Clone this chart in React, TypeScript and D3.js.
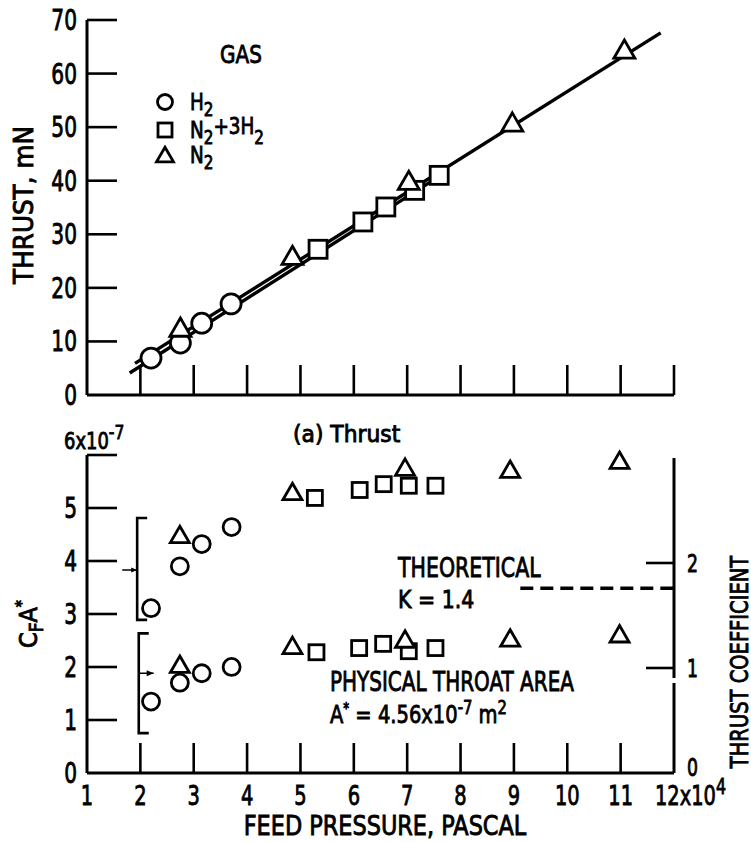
import React from 'react';
import * as d3 from 'd3';

// feed pressure, units of 10^4 Pa
const pressureTicks = [1, 2, 3, 4, 5, 6, 7, 8, 9, 10, 11];
const thrustTicks = [0, 10, 20, 30, 40, 50, 60, 70];
const cfaTicks = [0, 1, 2, 3, 4, 5];
const cfTicks = [0, 1, 2];

// (a) thrust, mN
const h2Pressure = [2.2, 2.75, 3.15, 3.7];
const h2Thrust = [6.9, 9.7, 13.4, 17.0];
const mixPressure = [5.33, 6.17, 6.6, 7.14, 7.6];
const mixThrust = [27.2, 32.3, 35.1, 38.2, 41.0];
const n2Pressure = [2.75, 4.85, 7.03, 8.97, 11.07];
const n2Thrust = [12.1, 25.5, 39.5, 50.4, 64.0];

// fitted lines (endpoints)
const fitN2Pressure = [1.9, 11.75];
const fitN2Thrust = [5.9, 67.6];
const fitH2Pressure = [1.8, 7.6];
const fitH2Thrust = [4.1, 40.8];

// C_F A*, units of 10^-7 m^2
const h2CfaPressure = [2.2, 2.74, 3.15, 3.71];
const h2Cfa = [3.11, 3.9, 4.32, 4.64];
const mixCfaPressure = [5.27, 6.11, 6.56, 7.03, 7.53];
const mixCfa = [5.19, 5.34, 5.45, 5.42, 5.42];
const n2CfaPressure = [2.74, 4.85, 6.96, 8.93, 10.98];
const n2Cfa = [4.45, 5.26, 5.72, 5.68, 5.85];

// thrust coefficient C_F
const h2CfPressure = [2.2, 2.74, 3.15, 3.71];
const h2Cf = [0.68, 0.86, 0.95, 1.01];
const mixCfPressure = [5.3, 6.1, 6.55, 7.03, 7.53];
const mixCf = [1.15, 1.19, 1.23, 1.16, 1.19];
const n2CfPressure = [2.74, 4.85, 6.96, 8.93, 10.98];
const n2Cf = [1.01, 1.19, 1.25, 1.26, 1.30];

const theoreticalCf = 1.76;
const theoreticalFrom = 9.12;

const font = "'DejaVu Sans', sans-serif";

const x = d3.scaleLinear().domain([1, 12]).range([87, 674]);
const yThrust = d3.scaleLinear().domain([0, 70]).range([395, 20]);
const yCfa = d3.scaleLinear().domain([0, 6]).range([773, 455]);
const yCf = d3.scaleLinear().domain([0, 3]).range([773, 458]);

type Shape = 'circle' | 'square' | 'triangle';

const Marker = ({ cx, cy, shape, s }: { cx: number; cy: number; shape: Shape; s: number }) => {
  const st = { fill: 'white', stroke: 'black', strokeWidth: 2.8 };
  if (shape === 'circle') return <circle cx={cx} cy={cy} r={s / 2} {...st} />;
  if (shape === 'square') return <rect x={cx - s / 2} y={cy - s / 2} width={s} height={s} {...st} />;
  const tri = d3.symbol().type(d3.symbolTriangle).size(s * s * 0.433)();
  return <path d={tri || ''} transform={`translate(${cx},${cy})`} {...st} strokeLinejoin="miter" />;
};

const Series = ({ px, py, yScale, shape, s }: { px: number[]; py: number[]; yScale: d3.ScaleLinear<number, number>; shape: Shape; s: number }) => (
  <g>
    {px.map((p, i) => (
      <Marker key={i} cx={x(p)} cy={yScale(py[i])} shape={shape} s={s} />
    ))}
  </g>
);

// narrow, slightly heavy text (the scan uses a condensed face)
const T = ({
  x: tx,
  y: ty,
  size,
  sx = 0.86,
  anchor = 'start',
  rot = 0,
  children,
}: {
  x: number;
  y: number;
  size: number;
  sx?: number;
  anchor?: string;
  rot?: number;
  children: React.ReactNode;
}) => (
  <g transform={`translate(${tx},${ty}) rotate(${rot}) scale(${sx},1)`}>
    <text fontSize={size} textAnchor={anchor} stroke="black" strokeWidth={0.9}>
      {children}
    </text>
  </g>
);

const App = () => {
  const lineN2 = d3
    .line<number>()
    .x((p) => x(p))
    .y((_, i) => yThrust(fitN2Thrust[i]))(fitN2Pressure);
  const lineH2 = d3
    .line<number>()
    .x((p) => x(p))
    .y((_, i) => yThrust(fitH2Thrust[i]))(fitH2Pressure);

  const axisW = 3;
  const tickW = 2.6;
  const tickLen = 30;

  return (
    <svg width={751} height={842} style={{ position: 'absolute', left: 0, top: 0, background: 'white' }} fontFamily={font}>
      <rect width={751} height={842} fill="white" />
      {/* ---------- top panel ---------- */}
      <line x1={x(1)} x2={x(1)} y1={yThrust(70)} y2={yThrust(0)} stroke="black" strokeWidth={axisW} />
      <line x1={x(1)} x2={x(12)} y1={yThrust(0)} y2={yThrust(0)} stroke="black" strokeWidth={axisW} />
      {thrustTicks.slice(1).map((t) => (
        <line key={t} x1={x(1)} x2={x(1) + tickLen} y1={yThrust(t)} y2={yThrust(t)} stroke="black" strokeWidth={tickW} />
      ))}
      {[...pressureTicks.slice(1), 12].map((t) => (
        <line key={t} x1={x(t)} x2={x(t)} y1={yThrust(0)} y2={yThrust(0) - tickLen} stroke="black" strokeWidth={tickW} />
      ))}
      {thrustTicks.map((t) => (
        <T key={t} x={77} y={yThrust(t) + 10} size={28} sx={0.72} anchor="end">
          {t}
        </T>
      ))}
      <T x={33} y={205} size={26} sx={0.95} rot={-90} anchor="middle">
        THRUST, mN
      </T>

      <path d={lineN2 || ''} stroke="black" strokeWidth={3.4} fill="none" />
      <path d={lineH2 || ''} stroke="black" strokeWidth={3.4} fill="none" />
      <Series px={h2Pressure} py={h2Thrust} yScale={yThrust} shape="circle" s={20} />
      <Series px={mixPressure} py={mixThrust} yScale={yThrust} shape="square" s={18} />
      <Series px={n2Pressure} py={n2Thrust} yScale={yThrust} shape="triangle" s={21} />

      {/* legend */}
      <T x={220} y={63} size={25} sx={0.8}>GAS</T>
      <Marker cx={165} cy={102} shape="circle" s={15} />
      <Marker cx={165} cy={130} shape="square" s={14} />
      <Marker cx={165} cy={157} shape="triangle" s={17} />
      <T x={190} y={110} size={23} sx={0.8}>
        H<tspan dy={6} fontSize={19}>2</tspan>
      </T>
      <T x={190} y={138} size={23} sx={0.8}>
        N<tspan dy={6} fontSize={19}>2</tspan>
        <tspan dy={-10}>+3H</tspan>
        <tspan dy={10} fontSize={19}>2</tspan>
      </T>
      <T x={190} y={163} size={23} sx={0.8}>
        N<tspan dy={6} fontSize={19}>2</tspan>
      </T>

      <T x={293} y={442} size={23} sx={0.95}>(a) Thrust</T>

      {/* ---------- bottom panel ---------- */}
      <line x1={x(1)} x2={x(1)} y1={yCfa(6)} y2={yCfa(0)} stroke="black" strokeWidth={axisW} />
      <line x1={x(1)} x2={x(12)} y1={yCfa(0)} y2={yCfa(0)} stroke="black" strokeWidth={axisW} />
      {[...cfaTicks.slice(1), 6].map((t) => (
        <line key={t} x1={x(1)} x2={x(1) + tickLen} y1={yCfa(t)} y2={yCfa(t)} stroke="black" strokeWidth={tickW} />
      ))}
      {pressureTicks.slice(1).map((t) => (
        <line key={t} x1={x(t)} x2={x(t)} y1={yCfa(0)} y2={yCfa(0) - tickLen} stroke="black" strokeWidth={tickW} />
      ))}
      {cfaTicks.map((t) => (
        <T key={t} x={77} y={yCfa(t) + 10} size={28} sx={0.72} anchor="end">
          {t}
        </T>
      ))}
      <T x={64} y={449} size={23} sx={0.78}>
        6x10<tspan dy={-10} fontSize={20}>-7</tspan>
      </T>
      {pressureTicks.map((t) => (
        <T key={t} x={x(t)} y={805} size={27} sx={0.72} anchor="middle">
          {t}
        </T>
      ))}
      <T x={655} y={805} size={27} sx={0.72}>
        12x10<tspan dy={-11} fontSize={22}>4</tspan>
      </T>
      <T x={385} y={835} size={27} sx={0.83} anchor="middle">
        FEED PRESSURE, PASCAL
      </T>
      <T x={37} y={624} size={25} sx={0.9} rot={-90} anchor="middle">
        C<tspan dy={6} fontSize={19}>F</tspan>
        <tspan dy={-6}>A</tspan>
        <tspan dy={-10} fontSize={16}>*</tspan>
      </T>

      {/* right axis */}
      <line x1={x(12)} x2={x(12)} y1={yCf(3)} y2={678} stroke="black" strokeWidth={axisW} />
      <line x1={x(12)} x2={x(12)} y1={683} y2={yCf(0)} stroke="black" strokeWidth={axisW} />
      {cfTicks.slice(1).map((t) => (
        <line key={t} x1={x(12) - 28} x2={x(12)} y1={yCf(t)} y2={yCf(t)} stroke="black" strokeWidth={tickW} />
      ))}
      {cfTicks.map((t) => (
        <T key={t} x={687} y={yCf(t) + (t === 0 ? 3 : 9)} size={24} sx={0.72}>
          {t}
        </T>
      ))}
      <T x={748} y={662} size={25} sx={0.78} rot={-90} anchor="middle">
        THRUST COEFFICIENT
      </T>
      <line
        x1={x(theoreticalFrom)}
        x2={x(12)}
        y1={yCf(theoreticalCf)}
        y2={yCf(theoreticalCf)}
        stroke="black"
        strokeWidth={3.5}
        strokeDasharray="13 7"
      />

      {/* brackets */}
      <path
        d={`M${x(1.94) + 10},${yCfa(4.81)} H${x(1.94)} V${yCfa(2.89)} H${x(1.94) + 10}`}
        fill="none"
        stroke="black"
        strokeWidth={2.6}
      />
      <line x1={x(1.66)} x2={x(1.94)} y1={yCfa(3.83)} y2={yCfa(3.83)} stroke="black" strokeWidth={1.5} />
      <path d={`M${x(1.94)},${yCfa(3.83)} l-6,-2.5 v5 z`} fill="black" />
      <path
        d={`M${x(1.97) + 10},${yCf(1.33)} H${x(1.97)} V${yCf(0.38)} H${x(1.97) + 10}`}
        fill="none"
        stroke="black"
        strokeWidth={2.6}
      />
      <line x1={x(1.97)} x2={x(2.25)} y1={yCf(0.95)} y2={yCf(0.95)} stroke="black" strokeWidth={1.5} />
      <path d={`M${x(2.25)},${yCf(0.95)} l-7,-3 v6 z`} fill="black" />

      <Series px={h2CfaPressure} py={h2Cfa} yScale={yCfa} shape="circle" s={17} />
      <Series px={mixCfaPressure} py={mixCfa} yScale={yCfa} shape="square" s={15} />
      <Series px={n2CfaPressure} py={n2Cfa} yScale={yCfa} shape="triangle" s={19} />
      <Series px={h2CfPressure} py={h2Cf} yScale={yCf} shape="circle" s={17} />
      <Series px={mixCfPressure} py={mixCf} yScale={yCf} shape="square" s={15} />
      <Series px={n2CfPressure} py={n2Cf} yScale={yCf} shape="triangle" s={19} />

      {/* annotations */}
      <T x={398} y={577} size={27} sx={0.76}>THEORETICAL</T>
      <T x={398} y={608} size={25} sx={0.82}>K  =  1.4</T>
      <T x={330} y={691} size={27} sx={0.74}>PHYSICAL THROAT AREA</T>
      <T x={330} y={723} size={25} sx={0.78}>
        A<tspan dy={-9} fontSize={15}>*</tspan>
        <tspan dy={9}>  =  4.56x10</tspan>
        <tspan dy={-9} fontSize={19}>-7</tspan>
        <tspan dy={9}> m</tspan>
        <tspan dy={-9} fontSize={19}>2</tspan>
      </T>
    </svg>
  );
};

export default App;
